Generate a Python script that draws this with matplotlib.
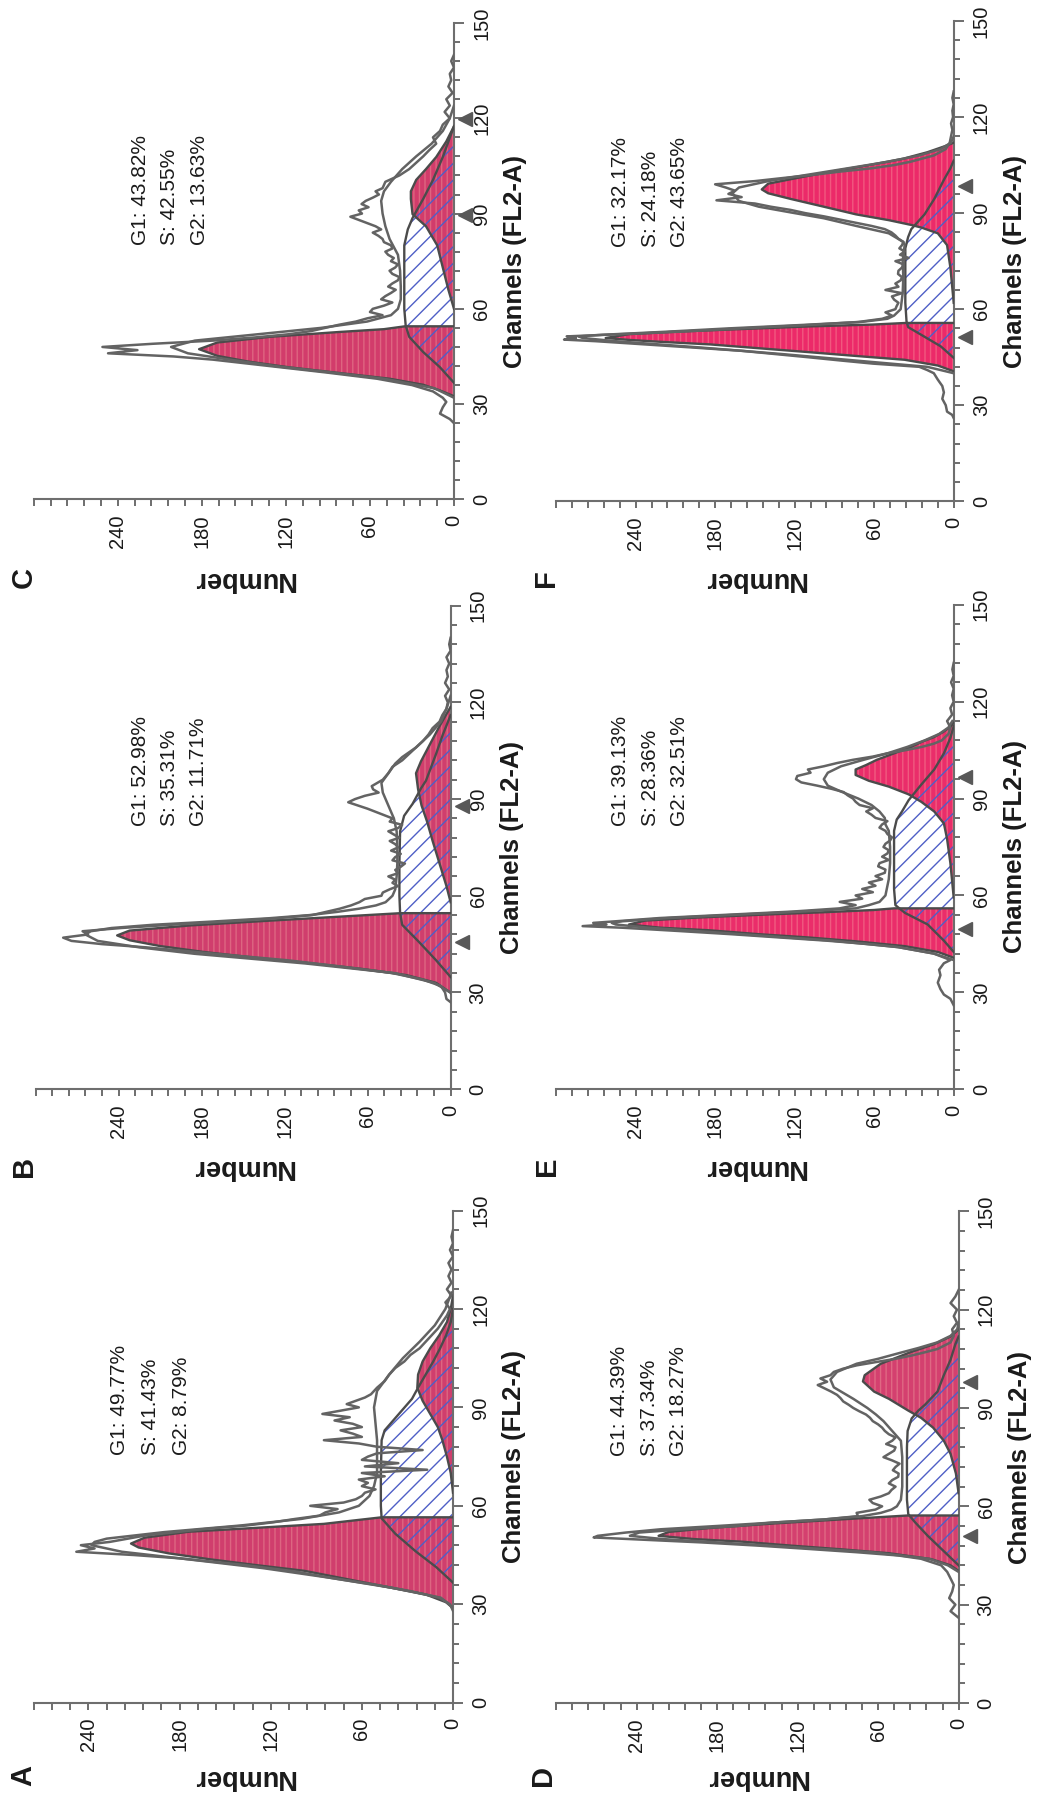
import numpy as np
import matplotlib
matplotlib.use("Agg")
import matplotlib.pyplot as plt
from matplotlib import transforms
from matplotlib.ticker import MultipleLocator

plt.rcParams['font.family'] = ['Liberation Sans', 'DejaVu Sans']
plt.rcParams['hatch.linewidth'] = 1.0

# ---------------- DATA ----------------
# Panel A
A_g1_ch = [28.8, 30.6, 33, 34.8, 36.6, 38.4, 40.2, 41.9, 43.7, 45.5, 47.3, 48.5, 50.3, 52.1, 53.3, 54.5, 56.5]
A_g1 = [0, 4.5, 18, 38, 58, 78, 98, 129, 160, 187, 207, 212, 203, 174, 129, 85, 47]
A_s_ch = [36.6, 41.3, 46.1, 51.5, 56.2, 60, 70, 80, 83, 87.8, 92.6, 96, 100, 104, 108, 112, 116, 120]
A_s = [0, 11, 24.5, 38, 47, 47.5, 47.5, 47, 45, 36, 27, 23, 18, 13, 8.5, 4.5, 1.5, 0]
A_g2_ch = [64, 70, 75, 80, 84, 88, 92, 96, 100, 104, 108, 112, 116, 120, 124]
A_g2 = [0, 1.5, 4, 7, 10, 15, 20, 23.5, 23, 20, 15, 9, 4, 1.5, 0]
A_fit_ch = [29, 32, 35, 38, 41, 44, 46, 48, 49, 50, 52, 54, 56, 58, 60, 63, 66, 70, 75, 80, 85, 90, 95, 100, 105, 110, 115, 120, 125]
A_fit = [0, 8, 40, 80, 125, 180, 218, 238, 236, 228, 190, 140, 100, 75, 62, 55, 52, 50, 50, 50, 51, 52, 50, 42, 33, 22, 12, 5, 1]
A_raw_ch = [28, 30, 32, 34, 36, 38, 40, 42, 44, 45, 46, 47, 48, 49, 50, 51, 52, 53, 54, 55, 56, 57, 58, 59, 60,
            61, 62, 63, 64, 65, 66, 67, 68, 69, 70, 71, 72, 73, 74, 75, 76, 77, 78, 79, 80, 81, 82, 83, 84, 85,
            86, 87, 88, 89, 90, 91, 92, 93, 94, 96, 98, 100, 102, 104, 106, 108, 110, 112, 114, 116, 118, 120,
            122, 124, 126, 128, 130, 132, 134, 136, 138, 140, 142, 144]
A_raw = [0, 2, 9, 28, 52, 80, 104, 138, 180, 210, 248, 236, 245, 226, 214, 202, 182, 162, 136, 118, 104, 88, 84, 76, 94,
         72, 64, 60, 58, 51, 60, 56, 62, 45, 60, 17, 58, 36, 60, 56, 50, 20, 50, 62, 85, 60, 66, 74, 60, 66,
         78, 68, 86, 74, 62, 70, 64, 58, 54, 50, 45, 42, 38, 32, 28, 22, 18, 14, 10, 7, 4, 2,
         5, 1, 4, 1, 3, 1, 3, 0, 2, 0, 1, 0]

# Panel B
B_g1_ch = [29.9, 33, 35.4, 37.2, 39, 40.8, 42.6, 44.4, 46.2, 47.7, 49.2, 50.8, 52.3, 53.5, 54.6]
B_g1 = [0, 10.5, 32, 62, 100, 142, 179, 210, 232, 241, 232, 188, 130, 81, 36]
B_s_ch = [34.8, 40, 45.6, 51, 54.7, 60, 70, 80, 84.8, 88.5, 93.3, 95.7, 100, 104, 110, 116]
B_s = [0, 10.5, 22.7, 35, 36.5, 37, 37, 36.5, 33.6, 27.5, 21.4, 17.8, 14, 10.5, 5.6, 0]
B_g2_ch = [58, 63, 70, 77, 83, 88, 93, 98, 101.7, 106.6, 112.6, 116.2, 118.6]
B_g2 = [0, 3, 8, 13, 17, 21, 23.5, 25, 21.4, 15.4, 8, 3.2, 0]
B_fit_ch = [30, 33, 36, 39, 42, 44, 46, 48, 49, 50, 51, 52, 53, 54, 55, 56, 57, 58, 60, 62, 66, 70, 75, 80, 84,
            88, 92, 95, 98, 101, 103, 106, 110, 114, 118, 122]
B_fit = [0, 12, 40, 105, 185, 225, 255, 264, 260, 245, 215, 172, 132, 102, 82, 66, 54, 47, 42, 40, 39, 38.5, 38.5, 39, 41,
         45, 49, 50, 45, 40, 35, 25, 15, 7, 3, 0]
B_raw_ch = [27, 28, 30, 32, 34, 36, 38, 40, 42, 44, 45, 46, 47, 48, 49, 50, 51, 52, 53, 54, 55, 56, 57, 58, 59,
            60, 61, 62, 63, 64, 65, 66, 67, 68, 69, 70, 71, 72, 73, 74, 75, 76, 77, 78, 79, 80, 81, 82, 83, 84,
            85, 86, 87, 88, 89, 90, 91, 92, 93, 94, 96, 98, 100, 102, 104, 106, 108, 110, 112, 114, 116, 118,
            120, 122, 124, 126, 128, 130, 132, 134, 136, 138, 140]
B_raw = [0, 3, 4, 7, 20, 42, 78, 118, 170, 220, 252, 274, 280, 262, 266, 238, 202, 162, 126, 100, 90, 80, 72, 66, 62,
         50, 49, 44, 38, 42, 40, 45, 38, 40, 36, 33, 42, 40, 36, 43, 38, 40, 44, 37, 41, 45, 38, 35, 44, 42,
         48, 54, 60, 67, 74, 69, 62, 52, 56, 57, 49, 45, 42, 35, 30, 25, 20, 16, 13, 8, 6, 3,
         2, 4, 1, 4, 2, 3, 1, 3, 0, 1, 0]

# Panel C
C_g1_ch = [32.5, 34.3, 36.1, 38, 39.8, 41.6, 43.4, 45.2, 47.3, 49.4, 51.2, 52.7, 53.6, 54.5]
C_g1 = [0, 10, 22, 46, 82, 118, 147, 169, 182, 169, 131, 82.5, 50, 35]
C_s_ch = [36.7, 41.6, 46.4, 51.2, 54.8, 60, 70, 80, 85, 88.6, 94.6, 100.6, 107.8, 113.9, 117.5]
C_s = [0, 10, 22, 32, 34.5, 35.5, 35.5, 35.5, 33, 29.6, 22, 15, 8, 3, 0]
C_g2_ch = [60, 66, 73, 80, 86, 89.8, 94.6, 97, 100.6, 104, 107.8, 112.7, 117.5]
C_g2 = [0, 4, 8, 12, 20, 29.6, 30.8, 30.8, 27, 20, 12.7, 5.5, 0]
C_fit_ch = [32, 35, 38, 40, 42, 44, 46, 48, 50, 52, 54, 56, 58, 60, 63, 67, 72, 77, 82, 86, 90, 94, 97, 100,
            104, 108, 112, 116, 120, 124]
C_fit = [0, 14, 50, 88, 128, 160, 190, 202, 185, 140, 95, 62, 45, 40, 38, 38, 38.5, 40, 46, 49, 51, 52, 50, 45,
         37, 27, 16, 8, 3, 0]
C_raw_ch = [24, 25.3, 27, 29, 30.7, 32, 34, 36, 38, 40, 42, 44, 45, 46, 47, 48, 49, 50, 51, 52, 53, 54, 55, 56, 57,
            58, 59, 60, 61, 62, 63, 64, 65, 66, 67, 68, 69, 70, 71, 72, 73, 74, 75, 76, 77, 78, 79, 80, 81, 82,
            83, 84, 85, 86, 87, 88, 89, 90, 91, 92, 93, 94, 95, 96, 97, 98, 100, 102, 104, 106, 108, 110, 112,
            114, 116, 118, 120, 122, 124, 126, 128, 130, 132, 134, 136, 138, 140]
C_raw = [0, 3, 10, 8, 5.5, 8, 15, 30, 55, 92, 132, 172, 200, 247, 226, 251, 215, 172, 142, 118, 102, 92, 82, 70, 62,
         51, 60, 58, 50, 44, 52, 49, 45, 41.6, 47, 44, 40, 39, 44, 46, 42, 40, 45, 43, 47, 49, 44, 45, 50, 51,
         54, 58, 52, 56, 62, 68, 74, 65.7, 68, 61, 66, 63, 58, 53.6, 56, 51, 49, 39, 32, 27, 22, 17.6, 12.7,
         15, 10, 8, 3, 6.7, 3, 5.5, 1, 4, 2, 3, 0, 2, 0]

# Panel D
D_g1_ch = [40.3, 42, 43.9, 45.7, 46.9, 48, 49.2, 50, 51, 52.2, 53.4, 54.8, 56, 57.2]
D_g1 = [0, 6, 20.5, 52, 88, 124.5, 161, 197, 223.6, 216, 185, 136.5, 88, 38]
D_s_ch = [42, 46.3, 51, 55.2, 57.6, 62, 70, 78, 83, 86.8, 89.2, 91, 95, 100, 104.7, 109.5, 111.8]
D_s = [0, 11, 23, 32.6, 37.5, 38.5, 38.5, 38.5, 38, 35, 30, 25, 15.7, 11, 6, 2.4, 0]
D_g2_ch = [64, 70, 76, 80, 84, 87, 89.2, 92.8, 95, 98.1, 100, 103.5, 107, 109.5, 111.8, 113.6, 114.8]
D_g2 = [0, 2, 6, 11, 19, 28, 37.5, 52, 63, 71.3, 70, 58, 36, 18, 6, 1, 0]
D_fit_ch = [40, 42, 44, 46, 48, 50, 51, 52, 53, 54, 55, 56, 57, 58, 59, 60, 62, 66, 70, 75, 80, 83, 86, 88, 90,
            92.8, 96.3, 98.7, 101, 103.5, 105, 107, 108.3, 110, 112, 114, 116]
D_fit = [0, 8, 22, 65, 140, 220, 245, 238, 205, 165, 140, 100, 72, 58, 50, 46, 43, 42, 42, 42, 43, 49.5, 56, 61.6, 68,
         78.5, 93, 95.5, 90.6, 76, 60, 42, 30, 16, 6, 1, 0]
D_raw_ch = [26, 27, 28, 30, 32, 34, 36, 38, 40, 42, 44, 45, 46, 47, 48, 49, 50, 50.5, 51, 52, 53, 54, 55, 56, 57,
            58, 59, 60, 61, 62, 63, 64, 65, 66, 67, 68, 69, 70, 71, 72, 73, 74, 75, 76, 77, 78, 79, 80, 81, 82,
            83, 84, 85, 86, 87, 88, 89, 90, 91, 92, 93, 94, 95, 96, 97, 98, 99, 100, 101, 102, 103, 104, 105,
            106, 107, 108, 110, 112, 114, 116, 118, 120, 122, 124, 126]
D_raw = [0, 3, 6, 2.4, 7, 4.8, 3.6, 6, 8.5, 13, 28, 45, 76, 112, 149, 192, 245, 272, 269, 248, 222, 180, 140, 100, 75,
         76, 62, 57, 64, 66.5, 58, 52, 50, 47, 52, 49.5, 45, 44.7, 49, 47, 44, 49.5, 56, 52, 48, 47, 54, 49.5, 47, 52,
         55, 57, 60, 64, 66, 69, 74, 78.5, 82, 86, 88, 90.6, 95, 100, 105, 98, 103, 95.5, 93, 86, 76, 61.6, 47,
         35, 25, 15.7, 6, 3.6, 4.8, 1.2, 3.6, 1.2, 6, 2.4, 0]

# Panel E
E_g1_ch = [40.7, 42.5, 44.3, 45.8, 47, 48, 49.2, 50, 51, 52.2, 53.1, 54, 54.8, 55.5, 56]
E_g1 = [0, 12, 37, 74, 110, 147, 184, 221, 245, 233, 196, 147, 98, 60, 45]
E_s_ch = [42.5, 46, 51, 54.6, 57, 62, 70, 80, 83.5, 86, 89.5, 94.3, 99, 104, 108.8, 112.4]
E_s = [0, 7.4, 19.6, 36.8, 44, 45, 45, 45, 43, 39, 34, 24.5, 14.7, 7.4, 2.5, 0]
E_g2_ch = [59.4, 70, 77.5, 82.3, 86, 89, 91.3, 93.7, 95.5, 97.3, 99, 100.4, 102, 104, 106, 107.6, 109, 110.6, 112.4, 113.6]
E_g2 = [0, 2.5, 5, 7.4, 14.7, 24.5, 34, 49, 64, 74, 74, 66, 58, 45, 32, 24, 15, 8, 2, 0]
E_fit_ch = [40, 42, 44, 46, 48, 50, 51, 51.5, 52, 53, 54, 55, 56, 57, 58, 60, 65, 70, 75, 80, 82, 84, 86, 88, 90,
            92, 94, 96, 98, 100, 102, 104, 106, 108, 110, 112, 114]
E_fit = [0, 15, 42, 92, 160, 230, 255, 258, 250, 215, 165, 115, 74, 64, 56, 51.5, 49, 48, 48, 49, 51.5, 52, 56, 62, 72,
         84, 95, 98, 95, 85, 68, 50, 35, 22, 11, 4, 1]
E_raw_ch = [26, 28, 29.3, 31, 33, 35.3, 37, 39, 40, 42, 44, 45, 46, 47, 48, 49, 50, 50.5, 51, 51.5, 52, 53, 54, 55, 56,
            57, 58, 59, 60, 61, 62, 63, 64, 65, 66, 67, 68, 69, 70, 71, 72, 73, 74, 75, 76, 77, 78, 79, 80, 81,
            82, 83, 84, 85, 86, 87, 88, 89, 90, 91, 92, 93, 94, 95, 96, 97, 98, 99, 100, 101, 102, 103, 104, 105,
            106, 107, 108, 110, 112, 114, 116, 118, 120, 122, 124, 126, 128, 130, 132]
E_raw = [0, 2.5, 7.4, 10, 12, 10, 11, 7.4, 2.5, 15, 42, 66, 96, 132, 168, 208, 250, 280, 262, 272, 255, 222, 172, 122, 86,
         74, 86, 69, 74, 61, 69, 59, 64, 54, 59, 52, 51.5, 57, 56, 49, 54, 50, 49, 53, 51.5, 48, 46.6, 50, 51.5, 56,
         54, 50, 59, 62, 66, 61, 71, 74, 76, 80, 83, 92, 103, 115, 119, 118, 108, 110, 98, 88, 76, 61, 50, 36,
         24, 15, 9, 4, 2.5, 5, 1.2, 2.5, 0, 1.2, 0, 2, 0, 1, 0]

# Panel F
F_g1_ch = [40.6, 42.4, 44.2, 45.4, 46.6, 47.8, 49, 49.8, 50.4, 51, 52.2, 53, 53.8, 54.6, 55.2, 55.7]
F_g1 = [0, 12, 37, 74, 110, 147, 184, 221, 245, 262.6, 245, 208.6, 159.5, 110, 61, 36]
F_s_ch = [44.8, 48.4, 52, 54.4, 56.2, 62, 70, 79, 82.5, 85, 89.6, 94.4, 100.4, 104, 106.4]
F_s = [0, 9.8, 24.5, 34.4, 35.6, 36.5, 36.5, 36.5, 34.4, 32, 22, 14.7, 7.4, 2.5, 0]
F_g2_ch = [62, 73, 80, 83.7, 85.5, 86.3, 87.8, 89.6, 92, 94.4, 96.2, 97.4, 99.2, 101, 103, 105, 107, 109, 111, 112]
F_g2 = [0, 2.5, 5, 12, 24.5, 32, 49, 73.6, 98, 122.7, 140, 144.8, 140, 118, 92, 64, 38, 20, 6, 0]
F_fit_ch = [40, 42, 44, 46, 48, 50, 51, 51.5, 52, 53, 54, 55, 56, 57, 58, 60, 65, 70, 75, 80, 81, 83.7, 86, 88.4,
            90.2, 92, 93.8, 96.2, 98, 100, 102, 104, 106, 108, 110, 112, 114]
F_fit = [0, 20, 75, 130, 190, 255, 280, 283, 265, 215, 170, 118, 70, 50, 45, 40, 38.5, 38, 38.5, 37, 38, 49, 73.6, 98,
         122.7, 147, 162, 167, 162, 140, 110, 80, 50, 26, 10, 2, 0]
F_raw_ch = [26, 27, 28, 30, 32, 34, 36, 38, 40, 41, 42, 43, 44, 45, 46, 47, 48, 49, 50, 50.5, 51, 51.5, 52, 52.5, 53,
            54, 55, 56, 57, 58, 59, 60, 61, 62, 63, 64, 65, 66, 67, 68, 69, 70, 71, 72, 73, 74, 75, 76, 77, 78,
            79, 80, 81, 82, 83, 84, 85, 86, 87, 88, 89, 90, 91, 92, 93, 94, 95, 96, 97, 98, 99, 100, 101, 102,
            103, 104, 105, 106, 107, 108, 110, 112, 114, 116, 118, 120, 122, 124, 126, 128]
F_raw = [0, 1.2, 5, 6, 8.6, 7.4, 8.6, 12, 15, 20, 26, 61, 86, 110, 135, 160, 196, 233, 270, 294, 285, 292, 263, 233, 205,
         160, 112, 72, 54, 46.6, 51.5, 44, 43, 41.7, 45, 46.6, 39, 51.5, 41.7, 44, 40, 39, 42, 41.7, 39, 38, 44, 34, 40.5, 37,
         41, 39, 38, 41.7, 44, 47, 52, 62, 74, 86, 98, 112, 123, 138, 150, 179, 160, 170, 165, 172, 180, 150, 128, 105,
         85, 62, 45, 33, 24, 15, 6, 3, 2, 1, 2, 0.5, 1, 0, 1, 0]

LETTERS = ['A', 'B', 'C', 'D', 'E', 'F']
PERCENTS = {
    'A': ['G1: 49.77%', 'S: 41.43%', 'G2: 8.79%'],
    'B': ['G1: 52.98%', 'S: 35.31%', 'G2: 11.71%'],
    'C': ['G1: 43.82%', 'S: 42.55%', 'G2: 13.63%'],
    'D': ['G1: 44.39%', 'S: 37.34%', 'G2: 18.27%'],
    'E': ['G1: 39.13%', 'S: 28.36%', 'G2: 32.51%'],
    'F': ['G1: 32.17%', 'S: 24.18%', 'G2: 43.65%'],
}
MARKERS = {'A': [], 'B': [45.6, 87.8], 'C': [89.7, 119.9], 'D': [51, 98], 'E': [49.7, 96.6], 'F': [51.4, 98.6]}
NUM_MAX = {'A': 276, 'B': 300, 'C': 300, 'D': 300, 'E': 300, 'F': 300}

DATA = {
    'A': (A_g1_ch, A_g1, A_s_ch, A_s, A_g2_ch, A_g2, A_fit_ch, A_fit, A_raw_ch, A_raw),
    'B': (B_g1_ch, B_g1, B_s_ch, B_s, B_g2_ch, B_g2, B_fit_ch, B_fit, B_raw_ch, B_raw),
    'C': (C_g1_ch, C_g1, C_s_ch, C_s, C_g2_ch, C_g2, C_fit_ch, C_fit, C_raw_ch, C_raw),
    'D': (D_g1_ch, D_g1, D_s_ch, D_s, D_g2_ch, D_g2, D_fit_ch, D_fit, D_raw_ch, D_raw),
    'E': (E_g1_ch, E_g1, E_s_ch, E_s, E_g2_ch, E_g2, E_fit_ch, E_fit, E_raw_ch, E_raw),
    'F': (F_g1_ch, F_g1, F_s_ch, F_s, F_g2_ch, F_g2, F_fit_ch, F_fit, F_raw_ch, F_raw),
}

# ---------------- LAYOUT (pixels) ----------------
W, H = 1041, 1793
BOX = {  # left, right, top(ch150), bottom(ch0)
    'A': (33.8, 453.0, 1210.5, 1702.7),
    'B': (35.5, 450.6, 605.6, 1089.2),
    'C': (33.8, 454.0, 23.0, 499.4),
    'D': (556.1, 958.6, 1211.3, 1703.0),
    'E': (556.1, 953.7, 604.8, 1089.2),
    'F': (556.1, 953.7, 21.0, 501.3),
}
TEXT_POS = {  # number-positions of the three lines, channel of their start
    'A': ([219.5, 199.0, 178.5], 75.5),
    'B': ([224.0, 203.0, 182.0], 81.6),
    'C': ([224.0, 203.4, 181.8], 80.0),
    'D': ([252.5, 230.5, 208.5], 75.3),
    'E': ([251.5, 229.0, 207.0], 81.5),
    'F': ([251.5, 229.0, 207.0], 79.3),
}
LETTER_POS = {'A': (23.7, 1776), 'B': (23.7, 1166), 'C': (23.7, 578),
              'D': (543, 1776), 'E': (547, 1166), 'F': (546, 578)}
LABEL_ROW_Y = {'A': 1777, 'B': 1167, 'C': 579, 'D': 1777, 'E': 1167, 'F': 579}

PINK = {'A': '#d03e6d', 'B': '#d03e6d', 'C': '#d23c6b', 'D': '#d4406f', 'E': '#ea2d6a', 'F': '#ec2a69'}
BLUE = '#4f5fc6'
DARK = '#4b4b4b'
GRAYL = '#636363'
AXC = '#6e6e6e'
TXT = '#1a1a1a'

fig = plt.figure(figsize=(W / 100, H / 100), dpi=100)


def fx(px):
    return px / W


def fy(py):
    return 1 - py / H


for key in LETTERS:
    l, r, t, b = BOX[key]
    ax = fig.add_axes([fx(l), fy(b), (r - l) / W, (b - t) / H])
    nmax = NUM_MAX[key]
    ax.set_xlim(nmax, 0)
    ax.set_ylim(0, 150)
    ax.patch.set_alpha(0)
    for s in ['top', 'left']:
        ax.spines[s].set_visible(False)
    for s in ['bottom', 'right']:
        ax.spines[s].set_color(AXC)
        ax.spines[s].set_linewidth(1.5)
    ax.yaxis.tick_right()
    ax.set_yticks(np.arange(0, 151, 30))
    ax.yaxis.set_minor_locator(MultipleLocator(6))
    ax.set_xticks([0, 60, 120, 180, 240])
    ax.xaxis.set_minor_locator(MultipleLocator(12))
    ax.tick_params(axis='y', which='major', right=True, left=False, length=7, width=1.4, color=AXC,
                   pad=6, labelsize=14.5, labelrotation=90, labelcolor=TXT)
    ax.tick_params(axis='y', which='minor', right=True, left=False, length=4.5, width=1.4, color=AXC)
    ax.tick_params(axis='x', which='major', length=5, width=1.4, color=AXC, pad=6,
                   labelsize=14.5, labelrotation=90, labelcolor=TXT)
    ax.tick_params(axis='x', which='minor', length=5, width=1.4, color=AXC)
    for lab in ax.get_yticklabels():
        lab.set_va('center')

    g1_ch, g1, s_ch, s, g2_ch, g2, fit_ch, fit, raw_ch, raw = DATA[key]
    pink = PINK[key]
    # pink G1 and G2 peaks
    for cc, vv in ((g1_ch, g1), (g2_ch, g2)):
        ax.fill_betweenx(cc, 0, vv, facecolor=pink, edgecolor='none', linewidth=0, zorder=1)
        ax.fill_betweenx(cc, 0, vv, facecolor='none', edgecolor=(1.0, 0.82, 0.72, 0.28),
                         hatch='|||', linewidth=0, zorder=1.1)
    # S-phase hatch
    ax.fill_betweenx(s_ch, 0, s, facecolor='none', edgecolor=BLUE, hatch='//', linewidth=0, zorder=2)
    # outlines
    ax.plot(list(g1) + [0], list(g1_ch) + [g1_ch[-1]], color=DARK, lw=1.7, zorder=3)
    ax.plot(g2, g2_ch, color=DARK, lw=1.7, zorder=3)
    ax.plot(s, s_ch, color=DARK, lw=1.7, zorder=3)
    # data lines
    ax.plot(fit, fit_ch, color=GRAYL, lw=1.8, zorder=4)
    ax.plot(raw, raw_ch, color=GRAYL, lw=1.8, zorder=4)

    # peak markers
    blend = transforms.blended_transform_factory(ax.transAxes, ax.transData)
    width_px = r - l
    if MARKERS[key]:
        ax.plot([1 + 11 / width_px] * len(MARKERS[key]), MARKERS[key], linestyle='none',
                marker='<', ms=10, color='#585858', transform=blend, clip_on=False, zorder=5)

    # percentages
    xs, chs = TEXT_POS[key]
    for xv, txt in zip(xs, PERCENTS[key]):
        ax.text(xv, chs, txt, rotation=90, ha='center', va='bottom', fontsize=15, color=TXT, zorder=6)

    # axis titles
    fig.text(fx(r + 61), fy((t + b) / 2), 'Channels (FL2-A)', rotation=90, ha='center', va='center',
             fontsize=18.5, fontweight='bold', color=TXT)
    fig.text(fx((l + r) / 2), fy(LABEL_ROW_Y[key]), 'Number', rotation=180, ha='center', va='center',
             fontsize=19.5, fontweight='bold', color=TXT)
    lx, ly = LETTER_POS[key]
    fig.text(fx(lx), fy(ly), key, rotation=90, ha='center', va='center', fontsize=21,
             fontweight='bold', color=TXT)

fig.savefig('out.png', dpi=100, facecolor='white')
